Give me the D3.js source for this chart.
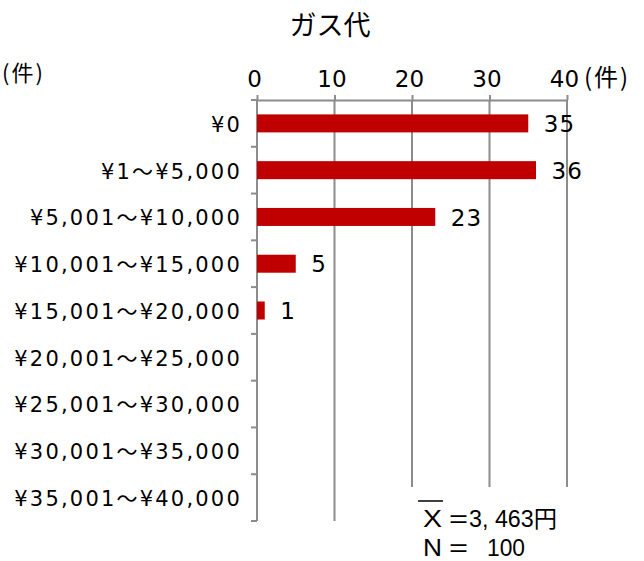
<!DOCTYPE html>
<html>
<head>
<meta charset="utf-8">
<script src="https://cdn.jsdelivr.net/npm/d3@7"></script>
<style>
  body { margin: 0; background: #fff; }
  svg { display: block; }
  text { fill: #000; }
  .num { font-family: "DejaVu Sans", "Noto Sans CJK JP", sans-serif; }
  .jp { font-family: "Noto Sans CJK JP", sans-serif; }
  .lat { font-family: "Liberation Sans", "Noto Sans CJK JP", sans-serif; }
</style>
</head>
<body>
<svg id="chart" width="644" height="561"></svg>
<script>
// 支出区分と件数
const categories = [
  "¥0", "¥1～¥5,000", "¥5,001～¥10,000", "¥10,001～¥15,000",
  "¥15,001～¥20,000", "¥20,001～¥25,000", "¥25,001～¥30,000",
  "¥30,001～¥35,000", "¥35,001～¥40,000"
];
const counts = [35, 36, 23, 5, 1, 0, 0, 0, 0];
const tickValues = [0, 10, 20, 30, 40];
const title = "ガス代";
const unitLabel = "(件)";
const meanText = "3, 463円";
const sampleSize = "100";

const svg = d3.select("#chart");
const plotLeft = 257, plotRight = 567, plotTop = 100, plotBottom = 521;

const x = d3.scaleLinear().domain([0, 40]).range([plotLeft, plotRight]);
const y = d3.scaleBand().domain(categories).range([plotTop, plotBottom])
  .paddingInner(0.615).paddingOuter(0.3075);

const gridColor = "#8c8c8c";

// 縦の目盛線
svg.append("g").selectAll("line")
  .data(tickValues.slice(1))
  .join("line")
  .attr("x1", d => x(d)).attr("x2", d => x(d))
  .attr("y1", plotTop).attr("y2", plotBottom)
  .attr("stroke", gridColor).attr("stroke-width", 2);

// 上側の数値軸
const xAxis = svg.append("g")
  .attr("transform", `translate(0,${plotTop})`)
  .call(d3.axisTop(x).tickValues(tickValues).tickSize(5).tickPadding(8).tickSizeOuter(0));
xAxis.select(".domain").attr("stroke", gridColor).attr("stroke-width", 2);
xAxis.selectAll(".tick line").attr("stroke", gridColor).attr("stroke-width", 2);
xAxis.selectAll(".tick text")
  .attr("class", "num")
  .attr("dx", -3)
  .style("font-size", "23px")
  .attr("fill", "#000");

// 左側の区分軸
const yEdges = d3.range(categories.length + 1).map(i => plotTop + i * y.step());
svg.append("line")
  .attr("x1", plotLeft).attr("x2", plotLeft).attr("y1", plotTop).attr("y2", plotBottom)
  .attr("stroke", gridColor).attr("stroke-width", 2);
svg.append("g").selectAll("line")
  .data(yEdges)
  .join("line")
  .attr("x1", plotLeft - 6).attr("x2", plotLeft)
  .attr("y1", d => d).attr("y2", d => d)
  .attr("stroke", gridColor).attr("stroke-width", 2);

svg.append("g").selectAll("text")
  .data(categories)
  .join("text")
  .attr("class", "num")
  .attr("x", 242)
  .attr("y", d => y(d) + y.bandwidth() / 2)
  .attr("dy", "0.4em")
  .attr("text-anchor", "end")
  .style("font-size", "21px")
  .style("letter-spacing", "2.2px")
  .text(d => d);

// 棒
const barData = counts.map((v, i) => ({ c: categories[i], v })).filter(d => d.v > 0);
svg.append("g").selectAll("rect")
  .data(barData)
  .join("rect")
  .attr("x", x(0))
  .attr("y", d => y(d.c))
  .attr("width", d => x(d.v) - x(0))
  .attr("height", y.bandwidth())
  .attr("fill", "#c00000");

// 件数ラベル
svg.append("g").selectAll("text")
  .data(barData)
  .join("text")
  .attr("class", "num")
  .attr("x", d => x(d.v) + 15.5)
  .attr("y", d => y(d.c) + y.bandwidth() / 2)
  .attr("dy", "0.38em")
  .style("font-size", "23px")
  .style("letter-spacing", "1px")
  .text(d => d.v);

// 表題と単位
svg.append("text")
  .attr("class", "jp")
  .attr("x", 330).attr("y", 35)
  .attr("text-anchor", "middle")
  .style("font-size", "27px")
  .text(title);
svg.append("text")
  .attr("class", "jp")
  .attr("x", 2).attr("y", 81)
  .style("font-size", "22px")
  .style("letter-spacing", "2px")
  .text(unitLabel);
svg.append("text")
  .attr("class", "jp")
  .attr("x", 584).attr("y", 86)
  .style("font-size", "24px")
  .style("letter-spacing", "2px")
  .text(unitLabel);

// 平均と件数の注記
const note = svg.append("g").style("font-size", "23px");
note.append("rect")
  .attr("x", 405).attr("y", 487).attr("width", 175).attr("height", 74)
  .attr("fill", "#fff");
note.append("line")
  .attr("x1", 418).attr("x2", 443).attr("y1", 501).attr("y2", 501)
  .attr("stroke", "#000").attr("stroke-width", 1.5);

function piece(txt, cls, px, py, len) {
  const t = note.append("text").attr("class", cls).attr("x", px).attr("y", py).text(txt);
  if (len) t.attr("textLength", len).attr("lengthAdjust", "spacingAndGlyphs");
  return t;
}
piece("X", "lat", 423, 527, 19);
piece("=", "lat", 449, 527, 19);
piece(meanText, "lat", 469, 527, 88);
piece("N", "lat", 423, 556, 19);
piece("=", "lat", 449, 556, 19);
piece(sampleSize, "lat", 487, 556, 38);
</script>
</body>
</html>
